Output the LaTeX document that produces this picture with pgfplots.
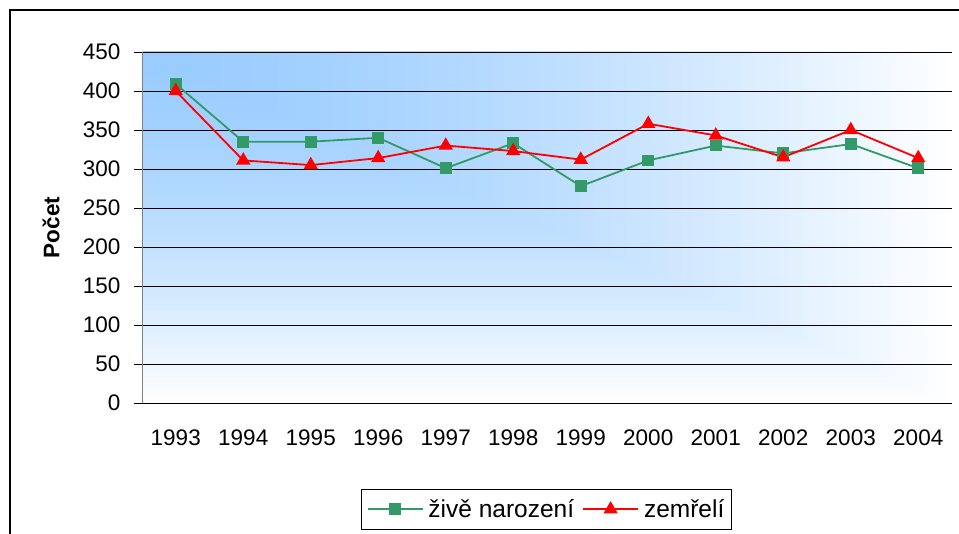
\documentclass[border=0pt]{standalone}
\usepackage{fontspec}
\setmainfont{Liberation Sans}
\usepackage{pgfplots}
\pgfplotsset{compat=1.18}
\definecolor{sgreen}{RGB}{51,153,102}
\pgfdeclarefunctionalshading{cornershade}{\pgfpointorigin}{\pgfpoint{100bp}{100bp}}{}{
  75 exch sub 50 div exch 25 sub 50 div 2 copy lt {exch} if pop
  dup 1 gt {pop 1} if dup 0 lt {pop 0} if
  dup sqrt mul
  dup 0.4 mul 0.6 add exch 0.2 mul 0.8 add 1
}
\begin{document}
\begin{tikzpicture}
\useasboundingbox (0pt,0pt) rectangle (959pt,534pt);
\draw[line width=2pt,black] (9.5pt,-5pt) -- (9.5pt,524pt) -- (965pt,524pt);
\begin{axis}[
  at={(142pt,131pt)}, anchor=south west,
  scale only axis, width=810pt, height=351pt,
  xmin=-0.5, xmax=11.5, ymin=0, ymax=450,
  xtick={0,...,11},
  xticklabels={1993,1994,1995,1996,1997,1998,1999,2000,2001,2002,2003,2004},
  minor xtick={-0.5,0.5,...,11.5},
  ytick={0,50,...,450},
  axis lines*=left,
  x axis line style={black, line width=0.8pt},
  y axis line style={gray, line width=0.8pt},
  tick align=outside,
  x tick style={draw=none},
  minor x tick style={black, line width=0.6pt},
  minor tick length=6pt,
  y tick style={black, line width=0.6pt},
  major tick length=8pt,
  ymajorgrids,
  grid style={black, line width=0.6pt},
  /pgf/number format/assume math mode=true,
  tick label style={font=\fontsize{22.5}{26}\selectfont},
  xticklabel style={yshift=-15pt},
  yticklabel style={xshift=-10pt},
  ylabel={\textbf{Počet}},
  ylabel style={font=\fontsize{22.5}{26}\selectfont, at={(rel axis cs:-0.1123,0.5)}, anchor=center},
  axis background/.style={shade, shading=cornershade},
  legend columns=2,
  legend style={at={(0.4994,-0.303)}, anchor=center, draw=black, line width=0.6pt,
    font=\fontsize{24.5}{28}\selectfont, inner xsep=5pt, inner ysep=8pt,
    /tikz/every odd column/.append style={column sep=3pt},
    /tikz/every even column/.append style={column sep=6pt}},
  legend image code/.code={\draw[#1, mark repeat=2, mark phase=2] plot coordinates {(0pt,0pt) (27.5pt,0pt) (55pt,0pt)};},
]
\addplot[sgreen, line width=1.8pt, mark=square*, mark size=5pt, mark options={solid}] coordinates {
(0,409) (1,335) (2,335) (3,340) (4,301) (5,333) (6,278) (7,311) (8,330) (9,320) (10,332) (11,301)};
\addlegendentry{živě narození}
\addplot[red, line width=1.8pt, mark=triangle*, mark size=6.5pt, mark options={solid}] coordinates {
(0,400) (1,311) (2,305) (3,314) (4,330) (5,323) (6,312) (7,358) (8,343) (9,315) (10,350) (11,314)};
\addlegendentry{zemřelí}
\end{axis}
\end{tikzpicture}
\end{document}
